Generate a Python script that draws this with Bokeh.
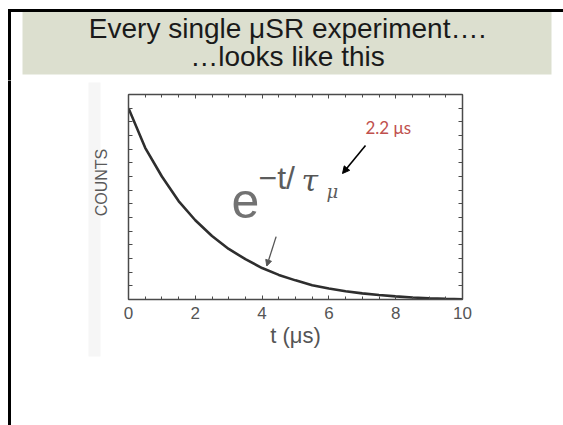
import math
from bokeh.plotting import figure
from bokeh.layouts import column, row
from bokeh.models import (Range1d, LinearAxis, FixedTicker, Label, Arrow, NormalHead,
                          CustomJSTickFormatter)
from bokeh.embed import file_html
from bokeh.resources import INLINE

# muon decay histogram: time after implantation (μs) vs counts (arb. units)
time_us = [0, 0.5, 1, 1.5, 2, 2.5, 3, 3.5, 4, 4.5, 5,
           5.5, 6, 6.5, 7, 7.5, 8, 8.5, 9, 9.5, 10]
counts = [14.0, 11.1, 9.0, 7.2, 5.8, 4.65, 3.7, 2.95, 2.3, 1.8, 1.4,
          1.05, 0.8, 0.6, 0.45, 0.33, 0.23, 0.15, 0.09, 0.05, 0.02]

x_major_ticks = [0, 2, 4, 6, 8, 10]
x_minor_ticks = [0.5 * k for k in range(21)]
y_ticks = list(range(16))

title_lines = ["Every single μSR experiment….", "…looks like this"]
lifetime_text = "2.2 μs"
y_title = "COUNTS"
x_title = "t (μs)"

INK = "#4a4a4a"
SANS = "Liberation Sans"

W, H = 563, 425
BANNER_H = 80
STRIP_W = 112


def blank_canvas(width, height):
    """A figure whose frame is the whole area, in top-down pixel units."""
    f = figure(width=width, height=height, output_backend="svg", toolbar_location=None,
               x_range=Range1d(0, width), y_range=Range1d(height, 0),
               x_axis_location=None, y_axis_location=None, min_border=0,
               frame_align=False)
    f.outline_line_color = None
    f.xgrid.visible = False
    f.ygrid.visible = False
    f.background_fill_color = "white"
    f.border_fill_color = "white"
    return f


# slide header: black rule, left edge and the shaded title banner
head = blank_canvas(W, BANNER_H)
head.quad(left=[8], right=[W], top=[8.5], bottom=[11.5], fill_color="black", line_color=None)
head.quad(left=[7.5], right=[10.5], top=[8.5], bottom=[BANNER_H + 2], fill_color="black", line_color=None)
head.quad(left=[22], right=[551], top=[11.5], bottom=[74], fill_color="#dcdfcf", line_color=None)
for i, line in enumerate(title_lines):
    head.add_layout(Label(x=287, y=27.5 + 28.5 * i, text=line, text_font=SANS,
                          text_font_size="28px", text_color="#1a1a1a",
                          text_align="center", text_baseline="alphabetic"))

# left margin of the slide, with the edge of the scanned figure and its y title
strip = blank_canvas(STRIP_W, H - BANNER_H)
strip.quad(left=[7.5], right=[10.5], top=[-2], bottom=[H - BANNER_H], fill_color="black", line_color=None)
strip.quad(left=[88], right=[100], top=[2], bottom=[276], fill_color="#f6f6f6", line_color=None)
strip.add_layout(Label(x=101, y=182 - BANNER_H, text=y_title, text_font=SANS,
                       text_font_size="16px", text_color="#5a5a5a",
                       text_align="center", text_baseline="middle", angle=math.pi / 2))

# main plot; frame sits at x 128-462, y 94-299 of the slide
OX, OY = STRIP_W, BANNER_H
p = figure(width=W - STRIP_W, height=H - BANNER_H, output_backend="svg",
           toolbar_location=None, x_range=Range1d(0, 10), y_range=Range1d(0, 15),
           x_axis_location=None, y_axis_location=None,
           min_border_left=128 - OX, min_border_right=W - 462,
           min_border_top=94 - OY, min_border_bottom=H - 299,
           frame_align=False)
p.outline_line_color = None
p.xgrid.visible = False
p.ygrid.visible = False
p.background_fill_color = "white"
p.border_fill_color = "white"

blank = CustomJSTickFormatter(code="return ''")


def framed_axis(ticker, labelled):
    ax = LinearAxis(ticker=ticker)
    ax.axis_line_color = INK
    ax.axis_line_width = 1.5
    ax.major_tick_in = 4
    ax.major_tick_out = 0
    ax.minor_tick_in = 3
    ax.minor_tick_out = 0
    ax.major_tick_line_color = INK
    ax.minor_tick_line_color = INK
    if labelled:
        ax.major_label_text_font = SANS
        ax.major_label_text_font_size = "17px"
        ax.major_label_text_color = "#555555"
        ax.major_label_standoff = 7
    else:
        ax.formatter = blank
        ax.major_label_text_font_size = "1px"
        ax.major_label_standoff = 0
    return ax


bottom = framed_axis(FixedTicker(ticks=x_major_ticks, minor_ticks=x_minor_ticks), True)
bottom.axis_label = x_title
bottom.axis_label_text_font = SANS
bottom.axis_label_text_font_size = "22px"
bottom.axis_label_text_font_style = "normal"
bottom.axis_label_text_color = "#555555"
bottom.axis_label_standoff = 1
p.add_layout(bottom, "below")

p.add_layout(framed_axis(FixedTicker(ticks=x_major_ticks, minor_ticks=x_minor_ticks), False), "above")
p.add_layout(framed_axis(FixedTicker(ticks=y_ticks, minor_ticks=[]), False), "left")
p.add_layout(framed_axis(FixedTicker(ticks=y_ticks, minor_ticks=[]), False), "right")

# decay curve
p.line(time_us, counts, line_color="#2e2e2e", line_width=2.6)


def cl(x, y, text, size, font=SANS, style="normal", color="#5c5c5c",
       align="left", baseline="alphabetic"):
    p.add_layout(Label(x=x - OX, y=y - OY, x_units="canvas", y_units="canvas",
                       text=text, text_font=font, text_font_size=size,
                       text_font_style=style, text_color=color,
                       text_align=align, text_baseline=baseline))


# formula e^{-t/tau_mu}
cl(231, 200, "e", "50px", color="#727272")
cl(258, 177, "−t/", "32px", color="#5c5c5c")
cl(301, 180, "τ", "30px", font="DejaVu Serif", style="italic", color="#555555")
cl(326, 191, "μ", "18px", font="DejaVu Serif", style="italic", color="#5c5c5c")

cl(365, 127, lifetime_text, "17px", font="Lato", color="#c0504d", baseline="middle")

p.add_layout(Arrow(x_start=365 - OX, y_start=145 - OY, x_end=342 - OX, y_end=173 - OY,
                   start_units="canvas", end_units="canvas",
                   line_color="black", line_width=1.6,
                   end=NormalHead(size=7, fill_color="black", line_color="black")))

# pointer to the curve
p.add_layout(Arrow(x_start=4.42, y_start=4.6, x_end=4.14, y_end=2.45,
                   line_color="#555555", line_width=1.3,
                   end=NormalHead(size=6, fill_color="#555555", line_color="#555555")))

layout = column(head, row(strip, p, spacing=0), spacing=0)
open("out.html", "w").write(file_html(layout, INLINE))
